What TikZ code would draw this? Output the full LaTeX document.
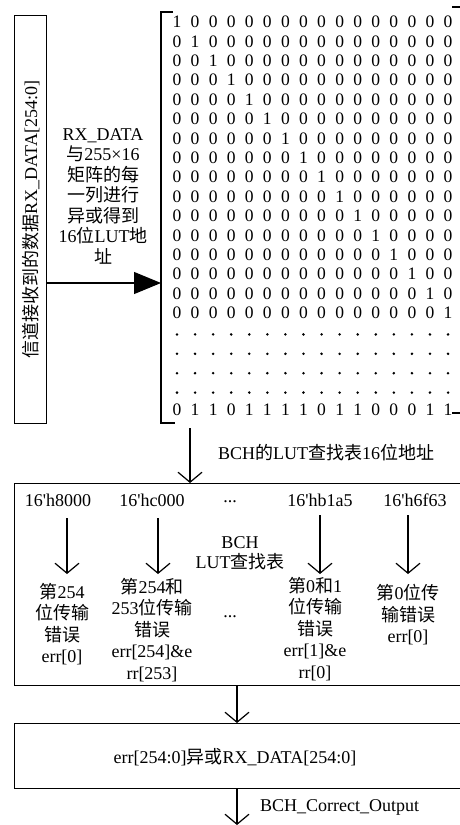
\documentclass[tikz,border=0pt]{standalone}
\usepackage{fontspec}
\setmainfont{Liberation Serif}[Ligatures=TeXOff]
\newfontfamily\cjkfont{Noto Sans CJK SC}
\newcommand\zh[1]{{\cjkfont #1}}
\usetikzlibrary{arrows.meta}
\begin{document}
\begin{tikzpicture}[x=1pt,y=-1pt,
  box/.style={draw, line width=1.3pt, inner sep=0pt},
  txt/.style={font=\fontsize{18}{20.5}\selectfont, align=center, inner sep=0pt},
  txtb/.style={font=\fontsize{18}{21.5}\selectfont, align=center, inner sep=0pt},
  digit/.style={font=\fontsize{17.5}{20}\selectfont, inner sep=0pt},
  arr/.style={line width=1.2pt, -{Straight Barb[length=10pt,width=24pt,line width=1.2pt]}},
  farr/.style={line width=1.2pt, -{Triangle[length=27pt,width=22pt]}}]
\useasboundingbox (0,0) rectangle (460,825);
\clip (0,0) rectangle (460,825);
% left box
\node[box, minimum width=32pt, minimum height=408pt, anchor=north west] (lb) at (14,15) {};
\node[txt, rotate=90] (lbt) at (lb.center) {\zh{信道接收到的数据}RX\_DATA[254:0]};
% label
\node[txt] (lbl) at (103,196) {RX\_DATA\\\zh{与}255×16\\\zh{矩阵的每}\\\zh{一列进行}\\\zh{异或得到}\\16\zh{位}LUT\zh{地}\\\zh{址}};
% matrix brackets
\draw[line width=1.3pt] (173,12) -- (161,12) -- (161,423) -- (175,423);
\draw[line width=1.3pt] (452,7) -- (466,7);
\draw[line width=1.3pt] (452,413) -- (466,413);
\coordinate (mL) at (161,283);
\draw[farr] (lb.east |- mL) -- (mL);
% identity part
\foreach \r in {1,...,16}{
  \foreach \c in {1,...,16}{
    \pgfmathtruncatemacro\v{\r==\c ? 1 : 0}
    \node[digit] (m\r-\c) at ({177+(\c-1)*18.07},{22+(\r-1)*19.4}) {\v};
  }
}
% dot rows
\foreach \r in {17,...,20}{
  \foreach \c in {1,...,16}{
    \fill ({177+(\c-1)*18.07},{22+(\r-1)*19.4+2}) circle (1.4pt);
  }
}
% last row
\foreach \v [count=\c] in {0,1,1,0,1,1,1,1,0,1,1,0,0,0,1,1}{
  \node[digit] (m21-\c) at ({177+(\c-1)*18.07},{22+20*19.4}) {\v};
}
% LUT box
\node[box, minimum width=460pt, minimum height=202pt, anchor=north west] (lut) at (14,483) {};
\coordinate (mB) at (190,428);
\draw[arr] (mB) -- (lut.north -| mB);
\node[txt, anchor=west] (addr) at (218,453) {BCH\zh{的}LUT\zh{查找表}16\zh{位地址}};
\node[txt] (h1) at (58,500) {16'h8000};
\node[txt] (h2) at (152,500) {16'hc000};
\node[txt] (hd) at (230,502) {...};
\node[txt] (h3) at (320,500) {16'hb1a5};
\node[txt] (h4) at (415,500) {16'h6f63};
\node[txt] (lutl) at (240,553) {BCH\\LUT\zh{查找表}};
\node[txtb] (c1) at (62,624) {\zh{第}254\\\zh{位传输}\\\zh{错误}\\err[0]};
\node[txtb] (c2) at (152,630) {\zh{第}254\zh{和}\\253\zh{位传输}\\\zh{错误}\\err[254]\&e\\rr[253]};
\node[txt] (cd) at (230,617) {...};
\node[txtb] (c3) at (315,629) {\zh{第}0\zh{和}1\\\zh{位传输}\\\zh{错误}\\err[1]\&e\\rr[0]};
\node[txtb] (c4) at (408,615) {\zh{第}0\zh{位传}\\\zh{输错误}\\err[0]};
\coordinate (a1t) at (67,518); \coordinate (a1b) at (67,574);
\coordinate (a2t) at (158,518); \coordinate (a2b) at (158,574);
\coordinate (a3t) at (320,515); \coordinate (a3b) at (320,574);
\coordinate (a4t) at (408,515); \coordinate (a4b) at (408,574);
\draw[arr] (a1t) -- (a1b);
\draw[arr] (a2t) -- (a2b);
\draw[arr] (a3t) -- (a3b);
\draw[arr] (a4t) -- (a4b);
% final box
\node[box, minimum width=460pt, minimum height=65pt, anchor=north west] (fb) at (14,723) {};
\node[txt] (fbt) at (235,757) {err[254:0]\zh{异或}RX\_DATA[254:0]};
\coordinate (x1) at (237,0);
\draw[arr] (lut.south -| x1) -- (fb.north -| x1);
\coordinate (outp) at (237,825);
\draw[arr] (fb.south -| x1) -- (outp);
\node[txt, anchor=west] (outl) at (260,807) {BCH\_Correct\_Output};
\end{tikzpicture}
\end{document}
